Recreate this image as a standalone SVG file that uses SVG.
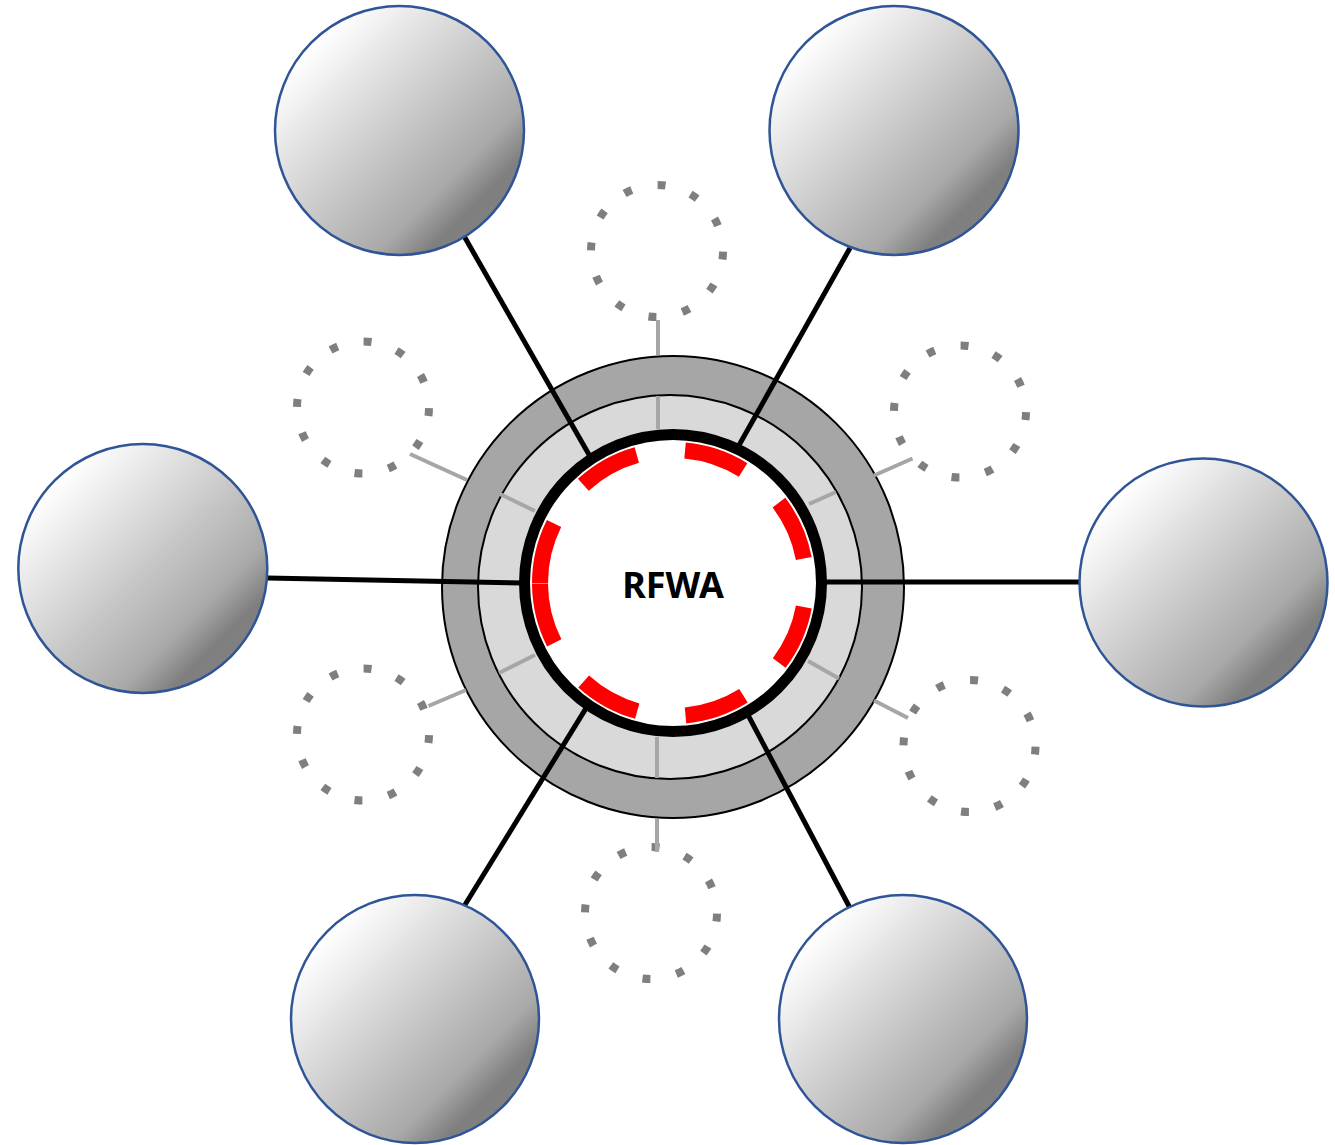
<svg xmlns="http://www.w3.org/2000/svg" width="1335" height="1145" viewBox="0 0 1335 1145">
<defs>
<linearGradient id="ballGrad" x1="0" y1="0" x2="1" y2="1">
<stop offset="0.15" stop-color="#ffffff"/>
<stop offset="0.5" stop-color="#c8c8c8"/>
<stop offset="0.7" stop-color="#a9a9a9"/>
<stop offset="0.8" stop-color="#7f7f7f"/>
<stop offset="0.86" stop-color="#808080"/>
</linearGradient>
<style>
.ball{fill:url(#ballGrad);stroke:#2f5597;stroke-width:2.5}
.dotted{fill:none;stroke:#7f7f7f;stroke-width:8;stroke-dasharray:6.95 23.05;stroke-dashoffset:-0.53}
.spoke{stroke:#a6a6a6;stroke-width:4;fill:none}
.link{stroke:#000;stroke-width:5;fill:none}
.label{font-family:"Noto Sans","Open Sans","Liberation Sans",sans-serif;font-weight:bold;font-size:36px;fill:#000;text-anchor:middle}
</style>
</defs>
<rect width="1335" height="1145" fill="#ffffff"/>

<g id="hub">
<circle cx="673" cy="587" r="231" fill="#a6a6a6" stroke="#000" stroke-width="2"/>
<circle cx="670" cy="587" r="192" fill="#d9d9d9" stroke="#000" stroke-width="2"/>
<circle cx="673" cy="583" r="148.5" fill="#ffffff" stroke="#000" stroke-width="11"/>
<path d="M540 583 A133 133 0 1 1 806 583 A133 133 0 1 1 540 583" pathLength="360" fill="none" stroke="#ff0000" stroke-width="16" stroke-dasharray="26.6 21"/>
<text class="label" x="673" y="598">RFWA</text>
</g>

<g id="slot-top"><circle class="dotted" cx="657" cy="251" r="66" pathLength="360"/></g>
<g id="slot-upper-left"><circle class="dotted" cx="363" cy="407.5" r="66" pathLength="360"/></g>
<g id="slot-upper-right"><circle class="dotted" cx="960" cy="411.5" r="66" pathLength="360"/></g>
<g id="slot-lower-left"><circle class="dotted" cx="363" cy="734.5" r="66" pathLength="360"/></g>
<g id="slot-lower-right"><circle class="dotted" cx="969.5" cy="746" r="66" pathLength="360"/></g>
<g id="slot-bottom"><circle class="dotted" cx="651" cy="913" r="66" pathLength="360"/></g>

<g id="connectors">
<line class="spoke" x1="658" y1="320" x2="658" y2="355"/>
<line class="spoke" x1="658" y1="396" x2="658" y2="429"/>
<line class="spoke" x1="657" y1="737" x2="657" y2="778"/>
<line class="spoke" x1="657" y1="819" x2="657" y2="852"/>
<line class="spoke" x1="410" y1="454" x2="467" y2="480"/>
<line class="spoke" x1="500" y1="494" x2="535" y2="511"/>
<line class="spoke" x1="912.5" y1="458.5" x2="874" y2="475.5"/>
<line class="spoke" x1="836" y1="492" x2="809" y2="504"/>
<line class="spoke" x1="428.5" y1="706" x2="466" y2="690"/>
<line class="spoke" x1="499" y1="673" x2="535" y2="655"/>
<line class="spoke" x1="908" y1="718" x2="874" y2="700.5"/>
<line class="spoke" x1="839" y1="678.5" x2="808" y2="661"/>

<line class="link" x1="464" y1="236" x2="590.5" y2="457.3"/>
<line class="link" x1="850" y1="248" x2="738" y2="447"/>
<line class="link" x1="267" y1="578" x2="524" y2="583"/>
<line class="link" x1="824" y1="582" x2="1080" y2="582"/>
<line class="link" x1="463" y1="908" x2="587" y2="706.6"/>
<line class="link" x1="850" y1="908" x2="748" y2="715"/>
</g>

<g id="node-top-left"><circle class="ball" cx="399.5" cy="130.5" r="124.5"/></g>
<g id="node-top-right"><circle class="ball" cx="894" cy="130.5" r="124.5"/></g>
<g id="node-left"><circle class="ball" cx="142.8" cy="568.5" r="124.5"/></g>
<g id="node-right"><circle class="ball" cx="1203.5" cy="582.5" r="124"/></g>
<g id="node-bottom-left"><circle class="ball" cx="415" cy="1019" r="124"/></g>
<g id="node-bottom-right"><circle class="ball" cx="903" cy="1019" r="124"/></g>
</svg>
